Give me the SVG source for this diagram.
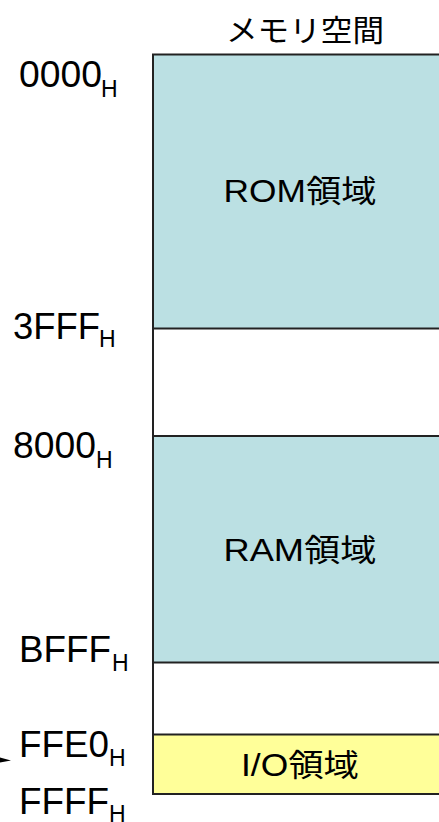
<svg xmlns="http://www.w3.org/2000/svg" width="439" height="822" viewBox="0 0 439 822">
<style>
.t{font-family:"Liberation Sans","Noto Sans CJK JP",sans-serif;fill:#000}
.addr{font-size:36px}
.sub{font-size:23px}
.lbl{font-size:31px;text-anchor:middle}
.box{stroke:#222;stroke-width:2}
.rom{fill:#BBE0E3}
.io{fill:#FFFF99}
.blank{fill:#fff}
</style>
<rect width="439" height="822" fill="#fff"/>
<text class="t lbl" x="305" y="41" style="font-size:30px" textLength="158" lengthAdjust="spacingAndGlyphs">メモリ空間</text>
<g id="blank1"><rect class="box blank" x="153" y="328" width="300" height="108"/></g>
<g id="blank2"><rect class="box blank" x="153" y="662" width="300" height="73"/></g>
<g id="rom"><rect class="box rom" x="153" y="54.5" width="300" height="274"/><text class="t lbl" x="300" y="202" textLength="153" lengthAdjust="spacingAndGlyphs">ROM領域</text></g>
<g id="ram"><rect class="box rom" x="153" y="436" width="300" height="226.5"/><text class="t lbl" x="300" y="561" textLength="153" lengthAdjust="spacingAndGlyphs">RAM領域</text></g>
<g id="io"><rect class="box io" x="153" y="734.5" width="300" height="59.5"/><text class="t lbl" x="300" y="776" textLength="118" lengthAdjust="spacingAndGlyphs">I/O領域</text></g>
<g id="labels">
<text class="t addr" x="19" y="87" textLength="83" lengthAdjust="spacingAndGlyphs">0000</text><text class="t sub" x="101" y="97">H</text>
<text class="t addr" x="13" y="339" textLength="87" lengthAdjust="spacingAndGlyphs">3FFF</text><text class="t sub" x="99" y="347">H</text>
<text class="t addr" x="13" y="458" textLength="83" lengthAdjust="spacingAndGlyphs">8000</text><text class="t sub" x="96" y="468">H</text>
<text class="t addr" x="19" y="662" textLength="92" lengthAdjust="spacingAndGlyphs">BFFF</text><text class="t sub" x="112" y="671">H</text>
<text class="t addr" x="19" y="757" textLength="90" lengthAdjust="spacingAndGlyphs">FFE0</text><text class="t sub" x="109" y="766">H</text>
<text class="t addr" x="19" y="814" textLength="90" lengthAdjust="spacingAndGlyphs">FFFF</text><text class="t sub" x="109" y="822">H</text>
</g>
<g id="connectors"><polygon points="0,757.5 11,760.5 0,762.5" fill="#000"/></g>
</svg>
